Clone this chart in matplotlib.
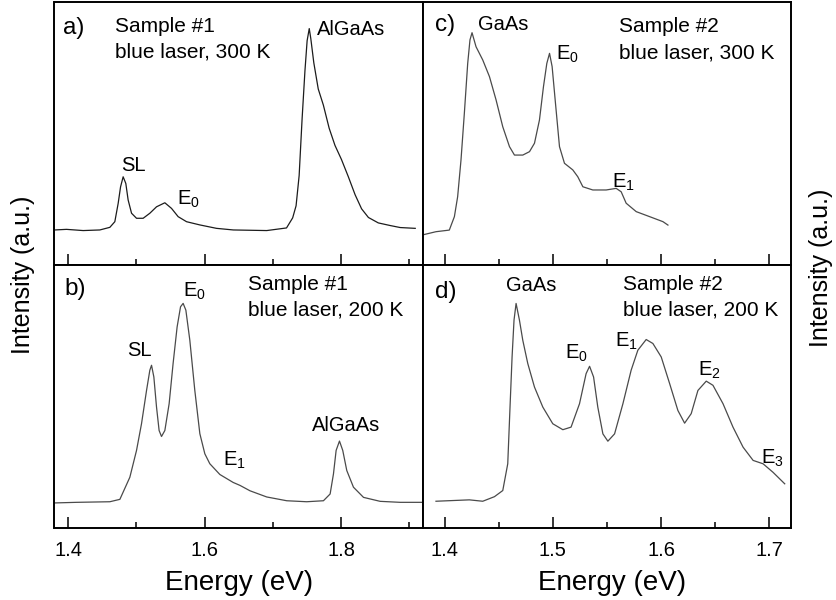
import matplotlib
matplotlib.use("Agg")
import matplotlib.pyplot as plt
from matplotlib.ticker import MultipleLocator

plt.rcParams['font.family'] = ['Liberation Sans', 'DejaVu Sans']
plt.rcParams['mathtext.fontset'] = 'custom'
plt.rcParams['mathtext.rm'] = 'Liberation Sans'
plt.rcParams['mathtext.it'] = 'Liberation Sans'

# ---------------- data (energy in eV, intensity in a.u.) ----------------
# (a) Sample #1, blue laser, 300 K
energy_a = [1.3804, 1.3976, 1.4220, 1.4464, 1.4611, 1.4684, 1.4733, 1.4768, 1.4806,
            1.4845, 1.4879, 1.4929, 1.5002, 1.5099, 1.5197, 1.5295, 1.5417, 1.5515,
            1.5612, 1.5735, 1.5930, 1.6174, 1.6421, 1.6910, 1.7200, 1.7290, 1.7340,
            1.7385, 1.7428, 1.7470, 1.7502, 1.7533, 1.7556, 1.7600, 1.7665, 1.7740,
            1.7825, 1.7910, 1.8005, 1.8105, 1.8205, 1.8300, 1.8400, 1.8545, 1.8719,
            1.8866, 1.9086]
intensity_a = [0.000, 0.003, -0.003, 0.000, 0.013, 0.041, 0.132, 0.214, 0.264,
               0.231, 0.149, 0.083, 0.058, 0.058, 0.083, 0.115, 0.135, 0.107,
               0.066, 0.041, 0.025, 0.008, 0.000, -0.003, 0.010, 0.060, 0.120,
               0.270, 0.550, 0.790, 0.940, 1.000, 0.950, 0.830, 0.700, 0.620,
               0.505, 0.420, 0.350, 0.265, 0.175, 0.105, 0.062, 0.035, 0.022,
               0.012, 0.008]

# (b) Sample #1, blue laser, 200 K
energy_b = [1.3804, 1.4122, 1.4611, 1.4758, 1.4904, 1.5002, 1.5075, 1.5149, 1.5197,
            1.5222, 1.5256, 1.5295, 1.5333, 1.5368, 1.5417, 1.5480, 1.5538, 1.5597,
            1.5647, 1.5685, 1.5725, 1.5783, 1.5856, 1.5930, 1.6003, 1.6076, 1.6223,
            1.6418, 1.6519, 1.6665, 1.6910, 1.7203, 1.7496, 1.7741, 1.7839, 1.7888,
            1.7927, 1.7976, 1.8024, 1.8083, 1.8181, 1.8328, 1.8572, 1.8866, 1.9183]
intensity_b = [-0.003, 0.000, 0.003, 0.015, 0.126, 0.261, 0.395, 0.563, 0.664,
               0.689, 0.630, 0.479, 0.361, 0.331, 0.361, 0.496, 0.698, 0.882,
               0.983, 1.000, 0.966, 0.815, 0.563, 0.345, 0.244, 0.194, 0.140,
               0.100, 0.085, 0.058, 0.027, 0.008, 0.003, 0.008, 0.042, 0.143,
               0.261, 0.308, 0.261, 0.160, 0.076, 0.025, 0.005, 0.000, 0.000]

# (c) Sample #2, blue laser, 300 K
energy_c = [1.3796, 1.3920, 1.4043, 1.4090, 1.4120, 1.4151, 1.4182, 1.4213, 1.4234,
            1.4253, 1.4290, 1.4352, 1.4414, 1.4475, 1.4537, 1.4599, 1.4645, 1.4722,
            1.4784, 1.4830, 1.4876, 1.4913, 1.4944, 1.4969, 1.4993, 1.5024, 1.5061,
            1.5107, 1.5184, 1.5230, 1.5277, 1.5369, 1.5492, 1.5585, 1.5631, 1.5677,
            1.5770, 1.5894, 1.6017, 1.6063]
intensity_c = [-0.008, 0.008, 0.016, 0.083, 0.182, 0.365, 0.598, 0.847, 0.964,
               1.000, 0.930, 0.864, 0.781, 0.665, 0.531, 0.432, 0.390, 0.390,
               0.407, 0.449, 0.565, 0.731, 0.847, 0.897, 0.831, 0.648, 0.432,
               0.349, 0.316, 0.282, 0.232, 0.216, 0.216, 0.224, 0.207, 0.150,
               0.108, 0.083, 0.058, 0.041]

# (d) Sample #2, blue laser, 200 K
energy_d = [1.3920, 1.4228, 1.4352, 1.4460, 1.4537, 1.4583, 1.4604, 1.4623, 1.4641,
            1.4660, 1.4691, 1.4722, 1.4768, 1.4830, 1.4907, 1.4999, 1.5092, 1.5168,
            1.5246, 1.5307, 1.5339, 1.5376, 1.5415, 1.5462, 1.5508, 1.5570, 1.5647,
            1.5723, 1.5785, 1.5862, 1.5924, 1.6001, 1.6079, 1.6155, 1.6217, 1.6278,
            1.6340, 1.6417, 1.6479, 1.6572, 1.6664, 1.6757, 1.6850, 1.6942, 1.7034,
            1.7142]
intensity_d = [0.002, 0.009, 0.002, 0.025, 0.056, 0.191, 0.477, 0.730, 0.916,
               1.000, 0.916, 0.814, 0.697, 0.578, 0.477, 0.393, 0.363, 0.376,
               0.494, 0.646, 0.683, 0.629, 0.477, 0.342, 0.305, 0.342, 0.494,
               0.663, 0.764, 0.818, 0.798, 0.730, 0.595, 0.460, 0.396, 0.444,
               0.561, 0.608, 0.587, 0.494, 0.376, 0.275, 0.208, 0.191, 0.148,
               0.090]

left_ticks = [1.4, 1.6, 1.8]
right_ticks = [1.4, 1.5, 1.6, 1.7]

# ---------------- figure ----------------
W, H = 836, 600
fig = plt.figure(figsize=(W / 100, H / 100), dpi=100)

x0, xm, x1 = 54.5 / W, 423 / W, 791 / W
ytop, ymid, ybot = 1 - 2 / H, 1 - 265 / H, 1 - 528 / H

ax_a = fig.add_axes([x0, ymid, xm - x0, ytop - ymid])
ax_b = fig.add_axes([x0, ybot, xm - x0, ymid - ybot])
ax_c = fig.add_axes([xm, ymid, x1 - xm, ytop - ymid])
ax_d = fig.add_axes([xm, ybot, x1 - xm, ymid - ybot])

ax_a.plot(energy_a, intensity_a, color='#1c1c1c', lw=0.9)
ax_b.plot(energy_b, intensity_b, color='#4a4a4a', lw=0.9)
ax_c.plot(energy_c, intensity_c, color='#4a4a4a', lw=0.9)
ax_d.plot(energy_d, intensity_d, color='#4a4a4a', lw=0.9)

ax_a.set_ylim(-0.174, 1.132)
ax_b.set_ylim(-0.129, 1.193)
ax_c.set_ylim(-0.158, 1.153)
ax_d.set_ylim(-0.133, 1.194)

for ax in (ax_a, ax_b):
    ax.set_xlim(1.38, 1.92)
    ax.set_xticks(left_ticks)
    ax.xaxis.set_minor_locator(MultipleLocator(0.1))
for ax in (ax_c, ax_d):
    ax.set_xlim(1.38, 1.72)
    ax.set_xticks(right_ticks)
    ax.xaxis.set_minor_locator(MultipleLocator(0.05))

for ax in (ax_a, ax_b, ax_c, ax_d):
    ax.set_yticks([])
    ax.tick_params(axis='x', which='major', direction='in', length=8, width=1.1,
                   labelsize=14.5, pad=9, top=False)
    ax.tick_params(axis='x', which='minor', direction='in', length=4, width=1.1, top=False)
    for s in ax.spines.values():
        s.set_linewidth(1.4)
        s.set_color('black')
for ax in (ax_a, ax_c):
    ax.tick_params(axis='x', which='both', labelbottom=False)

# panel labels and conditions
lab = dict(fontsize=17.5, ha='left', va='center')
txt = dict(fontsize=15, ha='left', va='center')
pk = dict(fontsize=14.5, va='center')

ax_a.text(0.023, 0.901, 'a)', transform=ax_a.transAxes, **lab)
ax_a.text(0.164, 0.905, 'Sample #1', transform=ax_a.transAxes, **txt)
ax_a.text(0.164, 0.810, 'blue laser, 300 K', transform=ax_a.transAxes, **txt)
ax_a.text(1.4963, 0.322, 'SL', ha='center', **pk)
ax_a.text(1.5589, 0.150, r'E$_\mathrm{0}$', ha='left', **pk)
ax_a.text(1.7643, 0.995, 'AlGaAs', ha='left', **pk)

ax_b.text(0.028, 0.909, 'b)', transform=ax_b.transAxes, **lab)
ax_b.text(0.525, 0.924, 'Sample #1', transform=ax_b.transAxes, **txt)
ax_b.text(0.525, 0.829, 'blue laser, 200 K', transform=ax_b.transAxes, **txt)
ax_b.text(1.5051, 0.765, 'SL', ha='center', **pk)
ax_b.text(1.5687, 1.060, r'E$_\mathrm{0}$', ha='left', **pk)
ax_b.text(1.6264, 0.210, r'E$_\mathrm{1}$', ha='left', **pk)
ax_b.text(1.7580, 0.387, 'AlGaAs', ha='left', **pk)

ax_c.text(0.033, 0.913, 'c)', transform=ax_c.transAxes, **lab)
ax_c.text(0.533, 0.905, 'Sample #2', transform=ax_c.transAxes, **txt)
ax_c.text(0.533, 0.806, 'blue laser, 300 K', transform=ax_c.transAxes, **txt)
ax_c.text(1.4308, 1.040, 'GaAs', ha='left', **pk)
ax_c.text(1.5033, 0.890, r'E$_\mathrm{0}$', ha='left', **pk)
ax_c.text(1.5542, 0.255, r'E$_\mathrm{1}$', ha='left', **pk)

ax_d.text(0.033, 0.897, 'd)', transform=ax_d.transAxes, **lab)
ax_d.text(0.543, 0.924, 'Sample #2', transform=ax_d.transAxes, **txt)
ax_d.text(0.543, 0.829, 'blue laser, 200 K', transform=ax_d.transAxes, **txt)
ax_d.text(1.4802, 1.093, 'GaAs', ha='center', **pk)
ax_d.text(1.5110, 0.748, r'E$_\mathrm{0}$', ha='left', **pk)
ax_d.text(1.5573, 0.808, r'E$_\mathrm{1}$', ha='left', **pk)
ax_d.text(1.6343, 0.664, r'E$_\mathrm{2}$', ha='left', **pk)
ax_d.text(1.6920, 0.217, r'E$_\mathrm{3}$', ha='left', **pk)

# axis titles
fig.text(239 / W, 1 - 583 / H, 'Energy (eV)', fontsize=20, ha='center', va='center')
fig.text(612 / W, 1 - 583 / H, 'Energy (eV)', fontsize=20, ha='center', va='center')
fig.text(23 / W, 1 - 275 / H, 'Intensity (a.u.)', fontsize=18, rotation=90,
         ha='center', va='center')
fig.text(821 / W, 1 - 268 / H, 'Intensity (a.u.)', fontsize=18, rotation=90,
         ha='center', va='center')

fig.savefig('out.png', dpi=100)
